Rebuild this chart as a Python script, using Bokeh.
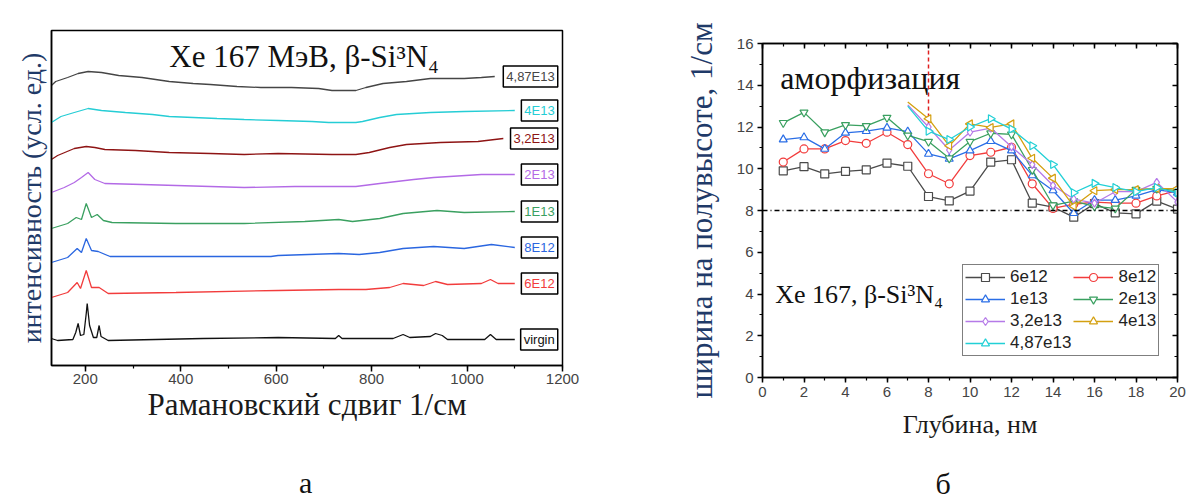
from bokeh.plotting import figure
from bokeh.models import (Range1d, SingleIntervalTicker, FixedTicker, LinearAxis, Label, Spacer,
                          Span, ColumnDataSource, Legend, LegendItem, CustomJSTickFormatter)
from bokeh.layouts import row, column
from bokeh.embed import file_html
from bokeh.resources import INLINE
from bokeh.core.properties import value
import math

SERIF = "Liberation Serif"
SANS = "Liberation Sans"

# ---------------- Panel (a): Raman spectra (arbitrary units, offset stacked) ----------------
virgin_x = [129, 142, 174, 180, 185, 190, 197, 202, 204, 209, 217, 224, 229, 233, 248, 447, 604, 724, 731, 738,
            845, 866, 880, 923, 934, 948, 959, 1037, 1049, 1061, 1100]
virgin_y = [27, 25, 26, 33, 42, 30, 31, 52, 62, 40, 28, 28, 40, 29, 25, 27, 28, 27, 30, 27,
            27, 31, 28, 29, 32, 30, 26, 26, 31, 26, 26]
e6e12_x = [129, 163, 183, 190, 202, 213, 229, 248, 390, 604, 731, 788, 838, 866, 909, 934, 959, 1030, 1049, 1065, 1100]
e6e12_y = [68, 73, 83, 77, 95, 78, 78, 72, 73, 75, 76, 76, 78, 82, 80, 84, 81, 82, 86, 82, 82]
e8e12_x = [129, 163, 183, 192, 202, 213, 227, 252, 390, 589, 604, 731, 774, 817, 866, 930, 994, 1051, 1100]
e8e12_y = [103, 108, 117, 113, 127, 115, 114, 109, 109, 109, 110, 112, 111, 113, 117, 119, 117, 121, 118]
e1e13_x = [129, 163, 181, 192, 202, 213, 225, 238, 256, 390, 533, 660, 731, 760, 817, 866, 937, 994, 1100]
e1e13_y = [137, 142, 148, 146, 162, 148, 151, 145, 143, 142, 142, 144, 146, 144, 147, 152, 155, 153, 154]
e2e13_x = [129, 156, 177, 192, 206, 220, 241, 319, 462, 533, 639, 767, 817, 888, 930, 1030, 1100]
e2e13_y = [173, 178, 183, 188, 193, 186, 182, 181, 179, 178, 179, 179, 182, 186, 188, 191, 191]
e32e13_x = [129, 142, 177, 202, 220, 241, 305, 376, 462, 533, 604, 717, 767, 795, 838, 873, 944, 1023, 1058, 1076]
e32e13_y = [206, 210, 217, 219, 218, 216, 215, 213, 212, 211, 212, 211, 211, 213, 218, 221, 223, 224, 226, 227]
e4e13_x = [129, 149, 177, 206, 234, 284, 341, 376, 426, 476, 533, 604, 675, 710, 767, 781, 817, 852, 923, 994, 1100]
e4e13_y = [243, 249, 253, 257, 255, 253, 251, 249, 248, 247, 246, 245, 244, 243, 243, 244, 248, 251, 253, 254, 255]
e487e13_x = [129, 138, 163, 185, 206, 234, 270, 319, 376, 426, 462, 518, 568, 632, 689, 717, 767, 788, 824, 873,
             923, 994, 1030, 1058]
e487e13_y = [280, 284, 288, 292, 294, 293, 290, 288, 284, 282, 281, 279, 278, 278, 277, 275, 275, 278, 282, 284,
             287, 287, 288, 289]

spec_names = ["virgin", "6E12", "8E12", "1E13", "2E13", "3,2E13", "4E13", "4,87E13"]
spec_xs = [virgin_x, e6e12_x, e8e12_x, e1e13_x, e2e13_x, e32e13_x, e4e13_x, e487e13_x]
spec_ys = [virgin_y, e6e12_y, e8e12_y, e1e13_y, e2e13_y, e32e13_y, e4e13_y, e487e13_y]
spec_colors = ["#111111", "#f23c3c", "#2a66e0", "#3aa060", "#b36ae6", "#8e1414", "#25cdd5", "#454545"]

# ---------------- Panel (b): FWHM vs depth ----------------
depth = [1, 2, 3, 4, 5, 6, 7, 8, 9, 10, 11, 12, 13, 14, 15, 16, 17, 18, 19, 20]
fw_6e12 = [9.9, 10.1, 9.75, 9.87, 9.95, 10.27, 10.12, 8.67, 8.46, 8.93, 10.32, 10.43, 8.35, 8.16, 7.68, 8.33, 7.89, 7.84, 8.45, 8.07]
fw_8e12 = [10.32, 10.95, 10.95, 11.35, 11.22, 11.75, 11.16, 9.76, 9.28, 10.63, 10.79, 11.03, 9.28, 8.1, 8.3, 8.4, 8.35, 8.35, 8.7, 8.95]
fw_1e13 = [11.4, 11.5, 10.95, 11.72, 11.8, 11.96, 11.78, 10.71, 10.47, 10.87, 11.32, 10.87, 9.68, 8.96, 7.87, 8.5, 8.5, 8.7, 9.0, 8.85]
fw_2e13 = [12.2, 12.7, 11.75, 12.1, 12.05, 12.45, 11.6, 11.3, 10.5, 11.3, 11.7, 11.65, 9.95, 8.25, 8.45, 8.2, 8.1, 9.0, 9.05, 8.95]
depth_hi = [7, 8, 9, 10, 11, 12, 13, 14, 15, 16, 17, 18, 19, 20]
fw_32e13 = [13.06, 12.0, 10.9, 11.75, 11.95, 11.05, 10.2, 9.2, 8.55, 8.35, 8.9, 8.9, 9.35, 8.4]
fw_4e13 = [13.2, 12.4, 11.1, 12.15, 11.98, 12.15, 10.5, 9.55, 8.2, 8.95, 9.0, 9.0, 9.05, 9.05]
fw_487e13 = [13.0, 11.8, 11.4, 12.0, 12.4, 11.9, 11.1, 10.2, 8.85, 9.3, 9.1, 8.9, 9.1, 8.85]

fw_names = ["6e12", "8e12", "1e13", "2e13", "3,2e13", "4e13", "4,87e13"]
fw_colors = ["#4a4a4a", "#f23c3c", "#2a6ee6", "#3aa060", "#b57ae8", "#d4a010", "#22d0d6"]
fw_markers = ["square", "circle", "triangle", "inverted_triangle", "diamond", "triangle", "triangle"]
fw_angles = [0, 0, 0, 0, 0, math.pi / 2, -math.pi / 2]
fw_x = [depth, depth, depth, depth, depth_hi, depth_hi, depth_hi]
fw_y = [fw_6e12, fw_8e12, fw_1e13, fw_2e13, fw_32e13, fw_4e13, fw_487e13]
fw_marker_start = [0, 0, 0, 0, 1, 1, 1]   # partial curves: the first segment has no marker

fwhm_crystal = 8          # horizontal reference level
amorph_depth = 8          # red dashed marker
amorph_top, amorph_bottom = 16, 11.8


def style_axis(ax, size="15px"):
    ax.major_label_text_font = SANS
    ax.major_label_text_font_size = size
    ax.major_label_text_color = "#444444"
    ax.axis_line_color = "black"
    ax.axis_line_width = 1.5
    ax.major_tick_line_color = "black"
    ax.major_tick_line_width = 1.5
    ax.minor_tick_line_color = "black"
    ax.minor_tick_line_width = 1.2
    ax.axis_label_text_font = SERIF
    ax.axis_label_text_font_style = "normal"


def caption_fig(x_range, frame_w, left, right, h, text, x, y):
    c = figure(frame_width=frame_w, frame_height=h, x_range=x_range, y_range=Range1d(0, h),
               x_axis_type=None, y_axis_type=None, output_backend="svg", toolbar_location=None,
               min_border_left=left, min_border_right=right, min_border_top=0, min_border_bottom=0)
    c.grid.visible = False
    c.outline_line_color = None
    c.add_layout(Label(x=x, y=y, text=text, text_font=SERIF, text_font_size="30px",
                       text_baseline="middle", text_align="center", text_color="#111111"))
    return c


# ---------------- figure (a) ----------------
p1 = figure(frame_width=511, frame_height=335, x_range=Range1d(129.2, 1200), y_range=Range1d(0, 335),
            output_backend="svg", toolbar_location=None,
            min_border_left=51, min_border_top=30, min_border_right=118, min_border_bottom=70)
p1.grid.visible = False
p1.outline_line_color = "black"
p1.outline_line_width = 1.5
p1.outline_line_alpha = 1

xa = p1.xaxis[0]
xa.ticker = SingleIntervalTicker(interval=200, num_minor_ticks=2)
style_axis(xa)
xa.major_tick_out, xa.major_tick_in = 6, 0
xa.minor_tick_out, xa.minor_tick_in = 3, 0
xa.major_label_standoff = 2
xa.axis_label = "Рамановский сдвиг 1/см"
xa.axis_label_text_font_size = "31px"
xa.axis_label_text_color = "#1a1a1a"
xa.axis_label_standoff = 0

ya = p1.yaxis[0]
ya.ticker = FixedTicker(ticks=[])
style_axis(ya)
ya.major_tick_out, ya.major_tick_in = 0, 0
ya.major_label_standoff = 0
ya.axis_label = "интенсивность (усл. ед.)"
ya.axis_label_text_font_size = "28px"
ya.axis_label_text_color = "#1f3a68"
ya.axis_label_standoff = 5

for xs, ys, c in zip(spec_xs, spec_ys, spec_colors):
    p1.line(xs, ys, line_color=c, line_width=1.3)

lab_src = ColumnDataSource(dict(
    x=[1190] * len(spec_names),
    y=[ys[-1] for ys in spec_ys],
    text=spec_names,
    color=spec_colors,
))
p1.text(x="x", y="y", text="text", source=lab_src, text_align="right", text_baseline="middle",
        text_font=value(SANS), text_font_size="13px", text_color="color",
        border_line_color="black", border_line_width=1.5, background_fill_color="white", padding=3)

p1.add_layout(Label(x=376, y=309.4, text="Xe 167 МэВ, β-Si³N₄", text_font=SERIF, text_font_size="31px",
                    text_baseline="middle", text_align="left", text_color="#111111"))

cap1 = caption_fig(p1.x_range, 511, 51, 118, 64, "а", 662, 17)

# ---------------- figure (b) ----------------
p2 = figure(frame_width=415, frame_height=334, x_range=Range1d(0, 20), y_range=Range1d(0, 16),
            output_backend="svg", toolbar_location=None,
            min_border_left=82, min_border_top=30, min_border_right=10, min_border_bottom=70)
p2.grid.visible = False
p2.outline_line_color = "black"
p2.outline_line_width = 1.5
p2.outline_line_alpha = 1

for ax in (p2.xaxis[0], p2.yaxis[0]):
    ax.ticker = SingleIntervalTicker(interval=2, num_minor_ticks=2)
    style_axis(ax)
    ax.major_tick_out, ax.major_tick_in = 5, 0
    ax.minor_tick_out, ax.minor_tick_in = 3, 0
    ax.major_label_standoff = 4

p2.xaxis[0].axis_label = "Глубина, нм"
p2.xaxis[0].axis_label_text_font_size = "26px"
p2.xaxis[0].axis_label_text_color = "#1a1a1a"
p2.xaxis[0].axis_label_standoff = 10
p2.yaxis[0].axis_label = "ширина на полувысоте, 1/см"
p2.yaxis[0].axis_label_text_font_size = "31px"
p2.yaxis[0].axis_label_text_color = "#1f3a68"
p2.yaxis[0].axis_label_standoff = 15

for place in ("above", "right"):
    m = LinearAxis(ticker=SingleIntervalTicker(interval=2, num_minor_ticks=2),
                   formatter=CustomJSTickFormatter(code="return ''"))
    style_axis(m)
    m.major_label_standoff = 0
    m.major_tick_in, m.major_tick_out = 5, 0
    m.minor_tick_in, m.minor_tick_out = 3, 0
    p2.add_layout(m, place)

p2.add_layout(Span(location=fwhm_crystal, dimension="width", line_color="black", line_width=1.5,
                   line_dash="5 3 1 3"))
p2.segment(x0=[amorph_depth], y0=[amorph_top], x1=[amorph_depth], y1=[amorph_bottom],
           line_color="#e02020", line_width=1.5, line_dash="4 3")

items = {}
for name, xs, ys, c, mk, ang, s in zip(fw_names, fw_x, fw_y, fw_colors, fw_markers, fw_angles, fw_marker_start):
    lr = p2.line(xs, ys, line_color=c, line_width=1.3)
    sr = p2.scatter(xs[s:], ys[s:], marker=mk, angle=ang, size=8, line_color=c, fill_color="white",
                    line_width=1.2)
    items[name] = LegendItem(label=name, renderers=[lr, sr])

legend = Legend(items=[items[n] for n in fw_names], location=(200, 21), orientation="horizontal", ncols=2,
                border_line_color="black", border_line_width=1.5, background_fill_color="white",
                background_fill_alpha=1, label_text_font=SANS, label_text_font_size="17px",
                label_text_color="#222222", glyph_width=40, glyph_height=20, label_standoff=5,
                padding=2, spacing=2, margin=0)
p2.add_layout(legend, "center")

p2.add_layout(Label(x=0.85, y=14.35, text="аморфизация", text_font=SERIF, text_font_size="32px",
                    text_baseline="middle", text_align="left", text_color="#111111"))
p2.add_layout(Label(x=0.61, y=4.0, text="Xe 167, β-Si³N₄", text_font=SERIF, text_font_size="26px",
                    text_baseline="middle", text_align="left", text_color="#111111"))

cap2 = caption_fig(p2.x_range, 415, 82, 10, 55, "б", 8.71, 19)

layout = row(column(p1, cap1), column(Spacer(width=507, height=13), p2, cap2))
open("out.html", "w").write(file_html(layout, INLINE))
